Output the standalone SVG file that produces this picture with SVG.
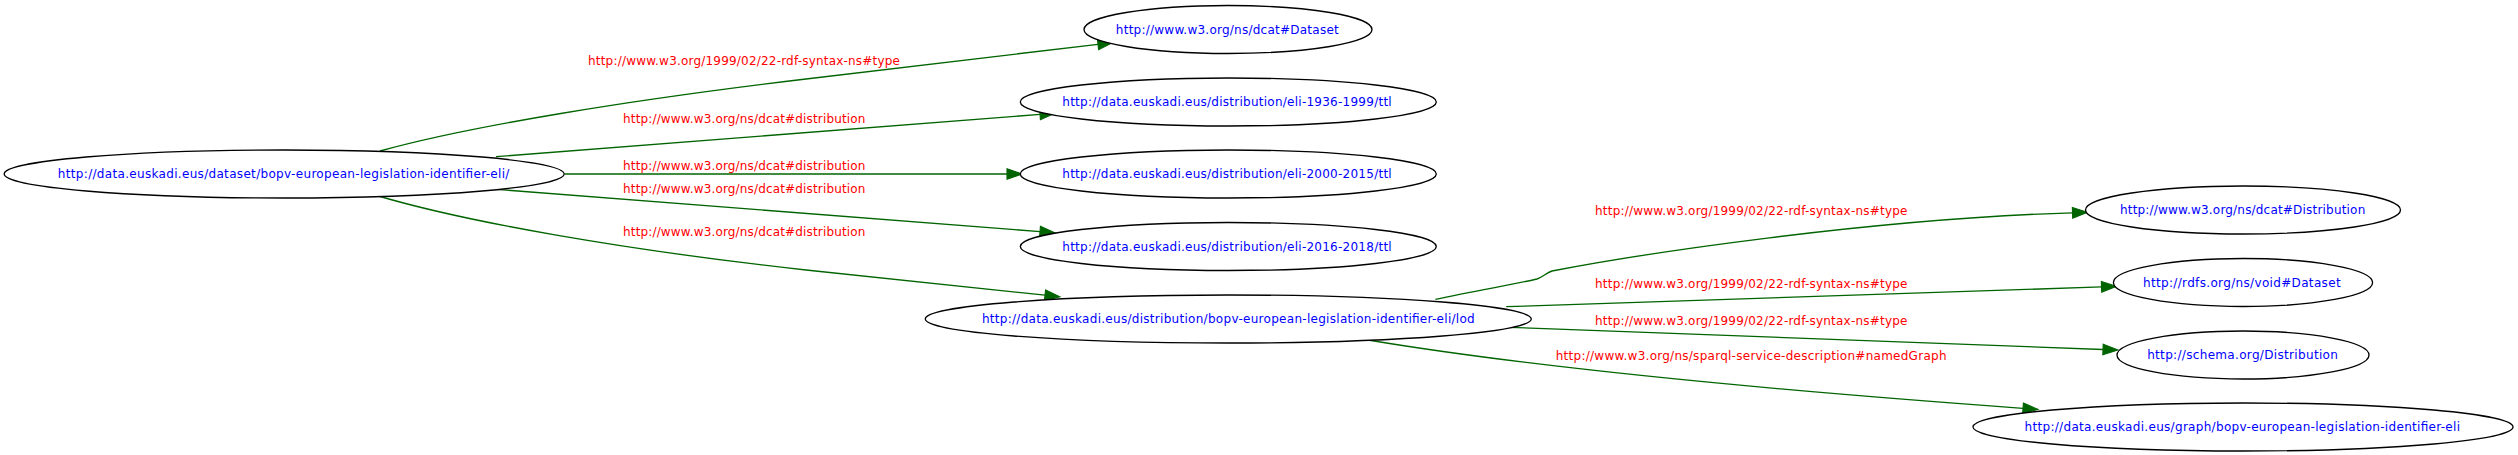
<svg xmlns="http://www.w3.org/2000/svg" width="2518" height="455" viewBox="0 0 2518 455">
<style>
.node ellipse{fill:#ffffff;stroke:#000000;stroke-width:1.33}
.node text{font-family:"DejaVu Sans",sans-serif;font-size:12px;fill:#0000ff;text-anchor:middle}
.edges path{fill:none;stroke:#006400;stroke-width:1.33}
.edges text{font-family:"DejaVu Sans",sans-serif;font-size:12px;fill:#ff0000}
</style>
<defs>
<marker id="arr" markerUnits="userSpaceOnUse" markerWidth="15" markerHeight="11" viewBox="0 0 14 10" refX="0" refY="5" orient="auto" overflow="visible">
<path d="M0,0 L14,5 L0,10 Z" fill="#006400" stroke="#006400" stroke-width="1"/>
</marker>
</defs>
<rect x="0" y="0" width="2518" height="455" fill="#ffffff"/>
<g id="edges" class="edges">
<path d="M380,151 C470,126 630,100 806,79 L1098,44.3" marker-end="url(#arr)"/>
<text x="588" y="65.3" textLength="312" lengthAdjust="spacing">http://www.w3.org/1999/02/22-rdf-syntax-ns#type</text>
<path d="M496,156.7 L1040,114.4" marker-end="url(#arr)"/>
<text x="623" y="123.3" textLength="242.4" lengthAdjust="spacing">http://www.w3.org/ns/dcat#distribution</text>
<path d="M564.5,174 L1007,174" marker-end="url(#arr)"/>
<text x="623" y="169.5" textLength="242.4" lengthAdjust="spacing">http://www.w3.org/ns/dcat#distribution</text>
<path d="M496,189.3 L1040,231.6" marker-end="url(#arr)"/>
<text x="623" y="193" textLength="242.4" lengthAdjust="spacing">http://www.w3.org/ns/dcat#distribution</text>
<path d="M375,195 C465,222 625,250 806,270 L1045,295.2" marker-end="url(#arr)"/>
<text x="623" y="235.7" textLength="242.4" lengthAdjust="spacing">http://www.w3.org/ns/dcat#distribution</text>
<path d="M1435.4,299.3 C1475,291 1520,283 1537,279 C1543,277 1546,273 1552,271 C1640,254 1870,219 2072.5,212.8" marker-end="url(#arr)"/>
<text x="1595" y="214.7" textLength="312.4" lengthAdjust="spacing">http://www.w3.org/1999/02/22-rdf-syntax-ns#type</text>
<path d="M1506.2,306.7 L2101.5,286.9" marker-end="url(#arr)"/>
<text x="1595" y="288" textLength="312.4" lengthAdjust="spacing">http://www.w3.org/1999/02/22-rdf-syntax-ns#type</text>
<path d="M1508.5,327.3 L2103,349.5" marker-end="url(#arr)"/>
<text x="1595" y="324.7" textLength="312.4" lengthAdjust="spacing">http://www.w3.org/1999/02/22-rdf-syntax-ns#type</text>
<path d="M1368,340 C1500,362 1700,385 2023,408.3" marker-end="url(#arr)"/>
<text x="1555.7" y="359.7" textLength="390.8" lengthAdjust="spacing">http://www.w3.org/ns/sparql-service-description#namedGraph</text>
</g>
<g id="n_main" class="node">
<ellipse cx="284.2" cy="174" rx="280" ry="24"/>
<text x="283.6" y="178" textLength="451.5" lengthAdjust="spacing">http://data.euskadi.eus/dataset/bopv-european-legislation-identifier-eli/</text>
</g>
<g id="n_dcat_dataset" class="node">
<ellipse cx="1228" cy="29.5" rx="144" ry="24"/>
<text x="1227.3" y="33.5" textLength="222.9" lengthAdjust="spacing">http://www.w3.org/ns/dcat#Dataset</text>
</g>
<g id="n_eli_1936" class="node">
<ellipse cx="1228.3" cy="102" rx="208" ry="24"/>
<text x="1227" y="106" textLength="329.4" lengthAdjust="spacing">http://data.euskadi.eus/distribution/eli-1936-1999/ttl</text>
</g>
<g id="n_eli_2000" class="node">
<ellipse cx="1228.3" cy="174" rx="208" ry="24"/>
<text x="1227" y="178" textLength="329.4" lengthAdjust="spacing">http://data.euskadi.eus/distribution/eli-2000-2015/ttl</text>
</g>
<g id="n_eli_2016" class="node">
<ellipse cx="1228.3" cy="246.5" rx="208" ry="24"/>
<text x="1227" y="250.5" textLength="329.4" lengthAdjust="spacing">http://data.euskadi.eus/distribution/eli-2016-2018/ttl</text>
</g>
<g id="n_lod" class="node">
<ellipse cx="1228.3" cy="319" rx="303" ry="24"/>
<text x="1228.3" y="323" textLength="492.8" lengthAdjust="spacing">http://data.euskadi.eus/distribution/bopv-european-legislation-identifier-eli/lod</text>
</g>
<g id="n_dcat_distribution" class="node">
<ellipse cx="2243" cy="210" rx="157.5" ry="24"/>
<text x="2242.6" y="214" textLength="245.3" lengthAdjust="spacing">http://www.w3.org/ns/dcat#Distribution</text>
</g>
<g id="n_void_dataset" class="node">
<ellipse cx="2243" cy="282.5" rx="129.6" ry="24"/>
<text x="2241.8" y="286.5" textLength="197.7" lengthAdjust="spacing">http://rdfs.org/ns/void#Dataset</text>
</g>
<g id="n_schema_distribution" class="node">
<ellipse cx="2243" cy="355" rx="126" ry="24"/>
<text x="2242.5" y="359" textLength="190.7" lengthAdjust="spacing">http://schema.org/Distribution</text>
</g>
<g id="n_graph" class="node">
<ellipse cx="2243" cy="427" rx="270" ry="24"/>
<text x="2242.3" y="431" textLength="435.5" lengthAdjust="spacing">http://data.euskadi.eus/graph/bopv-european-legislation-identifier-eli</text>
</g>
</svg>
